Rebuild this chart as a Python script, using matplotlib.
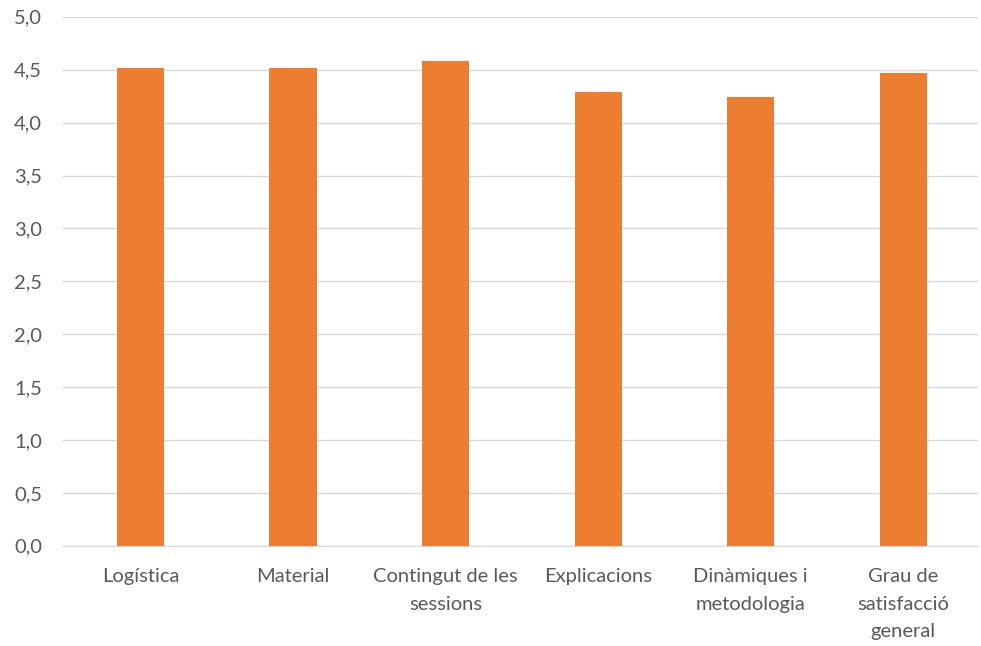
import matplotlib.pyplot as plt

# Data
categories = ["Logística", "Material", "Contingut de les\nsessions", "Explicacions",
              "Dinàmiques i\nmetodologia", "Grau de\nsatisfacció\ngeneral"]
scores = [4.52, 4.52, 4.58, 4.29, 4.24, 4.47]
y_ticks = [0.0, 0.5, 1.0, 1.5, 2.0, 2.5, 3.0, 3.5, 4.0, 4.5, 5.0]

plt.rcParams['font.family'] = ['Lato', 'DejaVu Sans']

fig = plt.figure(figsize=(9.81, 6.46), dpi=100)
ax = fig.add_axes([0.064, 0.155, 0.933, 0.819])

x = range(len(categories))
ax.bar(x, scores, width=0.31, color="#ED7D31", zorder=3)

ax.set_ylim(0, 5)
ax.set_xlim(-0.51, 5.49)
ax.set_yticks(y_ticks)
ax.set_yticklabels([f"{v:.1f}".replace(".", ",") for v in y_ticks])
ax.set_xticks(list(x))
ax.set_xticklabels(categories, linespacing=1.75)

ax.grid(axis="y", color="#D9D9D9", linewidth=1, zorder=0)
for side in ["top", "right", "left"]:
    ax.spines[side].set_visible(False)
ax.spines["bottom"].set_color("#D9D9D9")
ax.tick_params(axis="both", length=0, labelsize=14.5, colors="#595959")
ax.tick_params(axis="x", pad=16)
ax.tick_params(axis="y", pad=15)

fig.savefig("out.png", dpi=100)
